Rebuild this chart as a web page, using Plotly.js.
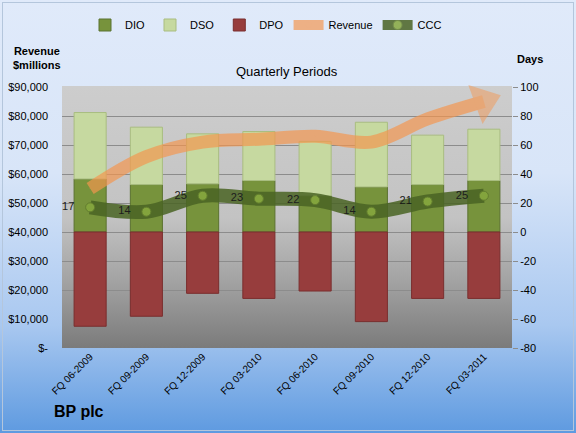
<!DOCTYPE html>
<html>
<head>
<meta charset="utf-8">
<script src="https://cdn.plot.ly/plotly-3.0.1.min.js"></script>
<style>
  html, body { margin: 0; padding: 0; }
  #wrap { position: relative; width: 576px; height: 433px; overflow: hidden;
    background: linear-gradient(to bottom, #e0eafa 0%, #d8e5f8 40%, #a9c8f0 75%, #5e9ae0 100%); }
  #plotbg { position: absolute; left: 62px; top: 86px; width: 450px; height: 262px;
    background: linear-gradient(to bottom, #cdcdcd 0%, #c3c3c3 50%, #a2a2a2 75%, #7b7b7b 100%); }
  #chart { position: absolute; left: 0; top: 0; width: 576px; height: 433px; }
  #frame { position: absolute; left: 2px; top: 2px; right: 2px; bottom: 2px;
    border: 1px solid #b4c6dc; pointer-events: none; }
</style>
</head>
<body>
<div id="wrap">
  <div id="plotbg"></div>
  <div id="chart"></div>
  <div id="frame"></div>
</div>
<script>
// ---- data ----
const categories = ['FQ 06-2009', 'FQ 09-2009', 'FQ 12-2009', 'FQ 03-2010',
                    'FQ 06-2010', 'FQ 09-2010', 'FQ 12-2010', 'FQ 03-2011'];
const dio = [36.6, 32.7, 33.2, 35.5, 25.0, 31.1, 32.7, 35.5];
const dso = [45.8, 39.6, 34.5, 33.8, 37.5, 44.6, 34.1, 35.4];
const dpo = [-65.0, -58.1, -42.3, -45.8, -40.7, -61.8, -45.8, -45.8];
const ccc = [17, 14, 25, 23, 22, 14, 21, 25];
const revenue = [55000, 66000, 71000, 72000, 73000, 71000, 79000, 85000];

const revTickVals = [0, 10000, 20000, 30000, 40000, 50000, 60000, 70000, 80000, 90000];
const revTickText = ['$-', '$10,000', '$20,000', '$30,000', '$40,000', '$50,000',
                     '$60,000', '$70,000', '$80,000', '$90,000'];
const dayTickVals = [-80, -60, -40, -20, 0, 20, 40, 60, 80, 100];
const dayTickText = ['-80', '-60', '-40', '-20', '0', '20', '40', '60', '80', '100'];

const FONT = 'Liberation Sans, Arial, sans-serif';
const nbsp = '\u00a0\u00a0\u00a0';

const lastIdx = revenue.length - 1;
const revSymbols = revenue.map((v, i) => i === lastIdx ? 'triangle-right' : 'circle');
const revSizes = revenue.map((v, i) => i === lastIdx ? 36 : 1);

const traces = [
  { type: 'bar', name: 'DIO', x: categories, y: dio, yaxis: 'y',
    marker: { color: '#77933c', line: { color: '#5b7230', width: 1 } } },
  { type: 'bar', name: 'DSO', x: categories, y: dso, yaxis: 'y',
    marker: { color: '#c6d9a0', line: { color: '#a9bd80', width: 1 } } },
  { type: 'bar', name: 'DPO', x: categories, y: dpo, yaxis: 'y',
    marker: { color: '#973d3d', line: { color: '#7a2e2e', width: 1 } } },
  { type: 'scatter', mode: 'lines+markers', name: 'Revenue', x: categories, y: revenue, yaxis: 'y2',
    line: { color: '#f5964e', width: 13, shape: 'spline', smoothing: 1 },
    marker: { symbol: revSymbols, size: revSizes, color: '#f5964e', angle: -20, line: { width: 0 } },
    opacity: 0.68, hoverinfo: 'skip', cliponaxis: false },
  { type: 'scatter', mode: 'lines+markers+text', name: 'CCC', x: categories, y: ccc, yaxis: 'y',
    line: { color: '#4a6424', width: 14, shape: 'spline', smoothing: 1 },
    marker: { color: '#86a83e', size: 9, line: { color: '#5f7a2c', width: 1 } },
    text: ccc.map(v => String(v) + nbsp), textposition: 'middle left',
    textfont: { family: FONT, size: 11, color: '#000000' },
    opacity: 0.85 }
];

const px = v => (v - 62) / 450;
const py = v => (348 - v) / 262;

const layout = {
  width: 576, height: 433,
  margin: { l: 62, r: 64, t: 86, b: 85, pad: 0 },
  paper_bgcolor: 'rgba(0,0,0,0)', plot_bgcolor: 'rgba(0,0,0,0)',
  font: { family: FONT, size: 11, color: '#000000' },
  barmode: 'relative', bargap: 0.43,
  showlegend: true,
  legend: { orientation: 'h', x: px(266), xanchor: 'center', y: py(25), yanchor: 'middle',
            font: { family: FONT, size: 11 }, itemwidth: 30, bgcolor: 'rgba(0,0,0,0)' },
  xaxis: { type: 'category', range: [-0.5, categories.length - 0.5], autorange: false,
           tickangle: -45, tickfont: { family: FONT, size: 10 },
           showgrid: false, zeroline: false, showline: false, ticks: '' },
  yaxis: { side: 'right', range: [-80, 100], tickvals: dayTickVals, ticktext: dayTickText,
           showgrid: true, gridcolor: '#8c8c8c', gridwidth: 1, zeroline: false,
           ticks: 'outside', ticklen: 5, tickcolor: '#8c8c8c', showline: false,
           tickfont: { family: FONT, size: 11 } },
  yaxis2: { side: 'left', overlaying: 'y', range: [0, 90000], tickvals: revTickVals, ticktext: revTickText,
            showgrid: false, zeroline: false, showline: false, ticks: '', ticklabelstandoff: 13,
            tickfont: { family: FONT, size: 11 } },
  annotations: [
    { text: '<b>Revenue<br>$millions</b>', xref: 'paper', yref: 'paper', x: px(37), y: py(57),
      xanchor: 'center', yanchor: 'middle', showarrow: false, font: { family: FONT, size: 11 } },
    { text: '<b>Days</b>', xref: 'paper', yref: 'paper', x: px(530), y: py(58),
      xanchor: 'center', yanchor: 'middle', showarrow: false, font: { family: FONT, size: 11 } },
    { text: 'Quarterly Periods', xref: 'paper', yref: 'paper', x: px(287), y: py(70),
      xanchor: 'center', yanchor: 'middle', showarrow: false, font: { family: FONT, size: 13 } },
    { text: '<b>BP plc</b>', xref: 'paper', yref: 'paper', x: px(52), y: py(412),
      xanchor: 'left', yanchor: 'middle', showarrow: false, font: { family: FONT, size: 16 } }
  ]
};

Plotly.newPlot('chart', traces, layout, { displayModeBar: false, staticPlot: true });
</script>
</body>
</html>
